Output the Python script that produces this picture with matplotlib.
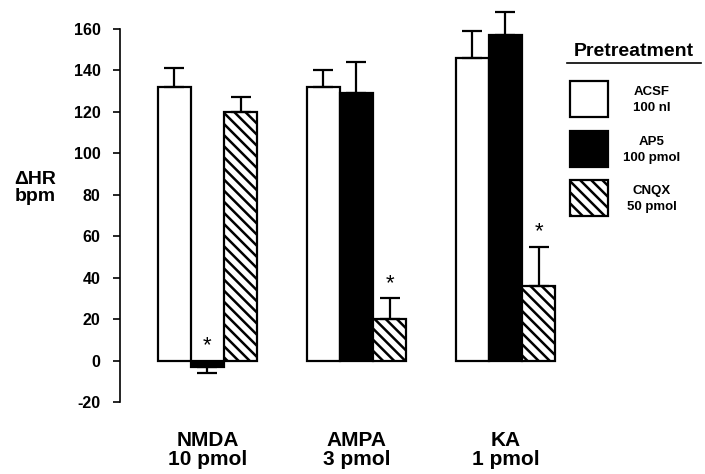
import matplotlib

matplotlib.use("Agg")
import matplotlib.pyplot as plt
import numpy as np
from matplotlib.patches import Rectangle

plt.rcParams["font.family"] = ["Liberation Sans", "DejaVu Sans"]
plt.rcParams["font.weight"] = "bold"
plt.rcParams["hatch.linewidth"] = 1.8

# values
GROUPS = ["NMDA\n10 pmol", "AMPA\n3 pmol", "KA\n1 pmol"]
PRETREAT = ["ACSF\n100 nl", "AP5\n100 pmol", "CNQX\n50 pmol"]
ACSF = [132, 132, 146]
ACSF_ERR = [9, 8, 13]
AP5 = [-3, 129, 157]
AP5_ERR = [3, 15, 11]
CNQX = [120, 20, 36]
CNQX_ERR = [7, 10, 19]
# significant (*) marks: (group, pretreatment index)
STARS = [(0, 1), (1, 2), (2, 2)]

FACES = ["white", "black", "white"]
HATCHES = [None, None, "\\\\\\"]

fig = plt.figure(figsize=(7.05, 4.74), dpi=100)
ax = fig.add_axes([120 / 705, 1 - 402 / 474, 440 / 705, 373 / 474])

x = np.arange(len(GROUPS))
w = 0.222
series = [(ACSF, ACSF_ERR), (AP5, AP5_ERR), (CNQX, CNQX_ERR)]
for i, (vals, errs) in enumerate(series):
    vals = np.array(vals, dtype=float)
    errs = np.array(errs, dtype=float)
    xs = x + (i - 1) * w
    ax.bar(xs, vals, w, color=FACES[i], edgecolor="black", linewidth=1.6,
           hatch=HATCHES[i], zorder=2)
    lower = np.where(vals < 0, errs, 0)
    upper = np.where(vals >= 0, errs, 0)
    eb = ax.errorbar(xs, vals, yerr=[lower, upper], fmt="none", ecolor="black",
                     elinewidth=1.6, capsize=7, capthick=1.6, zorder=3)
    for art in eb.lines[1] + eb.lines[2]:
        art.set_clip_on(False)
    for g, k in STARS:
        if k == i:
            top = vals[g] + errs[g] if vals[g] >= 0 else 0
            ax.text(xs[g], top + 2, "*", ha="center", va="bottom",
                    fontsize=16, fontweight="normal")

ax.set_xlim(-0.587, 2.366)
ax.set_ylim(-20, 160)
ax.set_yticks(np.arange(-20, 161, 20))
ax.set_yticklabels([str(v) for v in range(-20, 161, 20)], fontsize=11.5,
                   fontweight="bold")
ax.tick_params(axis="y", direction="out", length=5, width=1.2, pad=9)
ax.set_xticks([])
for s in ["top", "right", "bottom"]:
    ax.spines[s].set_visible(False)
ax.spines["left"].set_linewidth(1.2)

for g, lab in enumerate(GROUPS):
    ax.text(x[g], -34, lab, ha="center", va="top", fontsize=15,
            fontweight="bold", linespacing=1.0)

fig.text(35 / 705, 1 - 188 / 474, "\u0394HR\nbpm", ha="center", va="center",
         fontsize=14, fontweight="bold", linespacing=1.05)

# legend
fig.text(634 / 705, 1 - 51 / 474, "Pretreatment", ha="center", va="center",
         fontsize=14, fontweight="bold")
fig.add_artist(matplotlib.lines.Line2D([567 / 705, 701 / 705],
                                       [1 - 63 / 474, 1 - 63 / 474],
                                       color="black", lw=1.2))
box_tops = [81, 131, 180]
for i, lab in enumerate(PRETREAT):
    y0 = box_tops[i]
    r = Rectangle((570 / 705, 1 - (y0 + 36) / 474), 38 / 705, 36 / 474,
                  transform=fig.transFigure, facecolor=FACES[i],
                  edgecolor="black", linewidth=1.6, hatch=HATCHES[i])
    fig.add_artist(r)
    fig.text(652 / 705, 1 - (y0 + 19) / 474, lab, ha="center", va="center",
             fontsize=9.5, fontweight="bold", linespacing=1.35)

fig.savefig("out.png", dpi=100)
